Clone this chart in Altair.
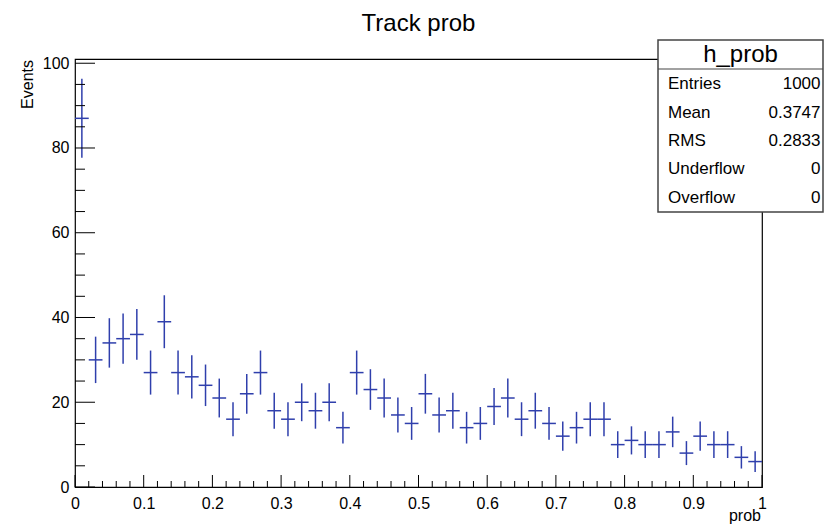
import altair as alt
import pandas as pd
import numpy as np

# Histogram h_prob: 50 bins over [0, 1]
bin_low = 0.0
bin_width = 0.02
counts = [87, 30, 34, 35, 36, 27, 39, 27, 26, 24,
          21, 16, 22, 27, 18, 16, 20, 18, 20, 14,
          27, 23, 21, 17, 15, 22, 17, 18, 14, 15,
          19, 21, 16, 18, 15, 12, 14, 16, 16, 10,
          11, 10, 10, 13, 8, 12, 10, 10, 7, 6]

# Axis tick values
x_major = [0, 0.1, 0.2, 0.3, 0.4, 0.5, 0.6, 0.7, 0.8, 0.9, 1.0]
y_major = [0, 20, 40, 60, 80, 100]
x_minor = [round(i * 0.02, 2) for i in range(51) if i % 5 != 0]
y_minor = [v for v in range(0, 101, 5) if v % 20 != 0]

# Statistics box
stat_name = "h_prob"
stat_labels = ["Entries", "Mean", "RMS", "Underflow", "Overflow"]
stat_values = ["1000", "0.3747", "0.2833", "0", "0"]

title_text = "Track prob"
x_title = "prob"
y_title = "Events"

FONT = "Liberation Sans"
W, H = 687, 428
BLUE = "#2f3fac"

n = len(counts)
lo = [bin_low + i * bin_width for i in range(n)]
hist = pd.DataFrame({
    "lo": lo,
    "hi": [v + bin_width for v in lo],
    "mid": [v + bin_width / 2 for v in lo],
    "n": counts,
})
hist["err_lo"] = hist["n"] - np.sqrt(hist["n"])
hist["err_hi"] = hist["n"] + np.sqrt(hist["n"])

xs = alt.Scale(domain=[0, 1], nice=False, zero=False)
ys = alt.Scale(domain=[0, 101], nice=False)

x_axis = alt.Axis(values=x_major, format="~g", title=None, grid=False, ticks=False,
                  domain=False, labelFont=FONT, labelFontSize=16, labelColor="black",
                  labelPadding=8, labelFlush=False, labelOverlap=False)
y_axis = alt.Axis(values=y_major, format="d", title=None, grid=False, ticks=False,
                  domain=False, labelFont=FONT, labelFontSize=16, labelColor="black",
                  labelPadding=6, labelOverlap=False)

base = alt.Chart(hist)

# Vertical error bars (sqrt(N))
vbars = base.mark_rule(color=BLUE, strokeWidth=1.5).encode(
    x=alt.X("mid:Q", scale=xs, axis=x_axis),
    y=alt.Y("err_lo:Q", scale=ys, axis=y_axis),
    y2="err_hi:Q",
)
# Horizontal bin-width bars
hbars = base.mark_rule(color=BLUE, strokeWidth=1.5).encode(
    x=alt.X("lo:Q", scale=xs),
    x2="hi:Q",
    y=alt.Y("n:Q", scale=ys),
)

# Inward ticks
xmaj = alt.Chart(pd.DataFrame({"v": x_major})).mark_rule(color="black", strokeWidth=1).encode(
    x=alt.X("v:Q", scale=xs), y=alt.value(H), y2=alt.value(H - 12))
xmin = alt.Chart(pd.DataFrame({"v": x_minor})).mark_rule(color="black", strokeWidth=1).encode(
    x=alt.X("v:Q", scale=xs), y=alt.value(H), y2=alt.value(H - 6))
ymaj = alt.Chart(pd.DataFrame({"v": y_major})).mark_rule(color="black", strokeWidth=1).encode(
    y=alt.Y("v:Q", scale=ys), x=alt.value(0), x2=alt.value(20))
ymin = alt.Chart(pd.DataFrame({"v": y_minor})).mark_rule(color="black", strokeWidth=1).encode(
    y=alt.Y("v:Q", scale=ys), x=alt.value(0), x2=alt.value(10))

# Titles
title = alt.Chart(pd.DataFrame({"t": [title_text]})).mark_text(
    font=FONT, fontSize=24, align="center", baseline="alphabetic", color="black"
).encode(text="t:N", x=alt.value(W / 2), y=alt.value(-28))
xt = alt.Chart(pd.DataFrame({"t": [x_title]})).mark_text(
    font=FONT, fontSize=16, align="right", baseline="alphabetic", color="black"
).encode(text="t:N", x=alt.value(686), y=alt.value(462))
yt = alt.Chart(pd.DataFrame({"t": [y_title]})).mark_text(
    font=FONT, fontSize=16, align="right", baseline="alphabetic", angle=270, color="black"
).encode(text="t:N", x=alt.value(-42), y=alt.value(1))

# Statistics box
bx0, bx1, by0, by1 = 583, 748, -19, 153
box = alt.Chart(pd.DataFrame({"k": [0]})).mark_rect(
    fill="white", stroke="#444444", strokeWidth=1.5
).encode(x=alt.value(bx0), x2=alt.value(bx1), y=alt.value(by0), y2=alt.value(by1))
sep = alt.Chart(pd.DataFrame({"k": [0]})).mark_rule(color="#444444", strokeWidth=1.2).encode(
    x=alt.value(bx0), x2=alt.value(bx1), y=alt.value(10))
name = alt.Chart(pd.DataFrame({"t": [stat_name]})).mark_text(
    font=FONT, fontSize=24, align="center", baseline="alphabetic", color="black"
).encode(text="t:N", x=alt.value((bx0 + bx1) / 2), y=alt.value(2.5))

row_step = 28.35
stat_rows = []
for i, (lab, val) in enumerate(zip(stat_labels, stat_values)):
    ry = 30.3 + i * row_step
    row = alt.Chart(pd.DataFrame({"label": [lab], "value": [val]}))
    stat_rows.append(row.mark_text(
        font=FONT, fontSize=17, align="left", baseline="alphabetic", color="black"
    ).encode(text="label:N", x=alt.value(593), y=alt.value(ry)))
    stat_rows.append(row.mark_text(
        font=FONT, fontSize=17, align="right", baseline="alphabetic", color="black"
    ).encode(text="value:N", x=alt.value(745.5), y=alt.value(ry)))

chart = alt.layer(
    vbars, hbars, xmaj, xmin, ymaj, ymin, title, xt, yt, box, sep, name, *stat_rows
).properties(
    width=W, height=H,
    autosize=alt.AutoSizeParams(type="none"),
    padding={"left": 75, "top": 59, "right": 63, "bottom": 38},
    background="white",
).configure_view(stroke="black", strokeWidth=1.2)

chart.save("out.html", embed_options={"renderer": "svg", "actions": False})
